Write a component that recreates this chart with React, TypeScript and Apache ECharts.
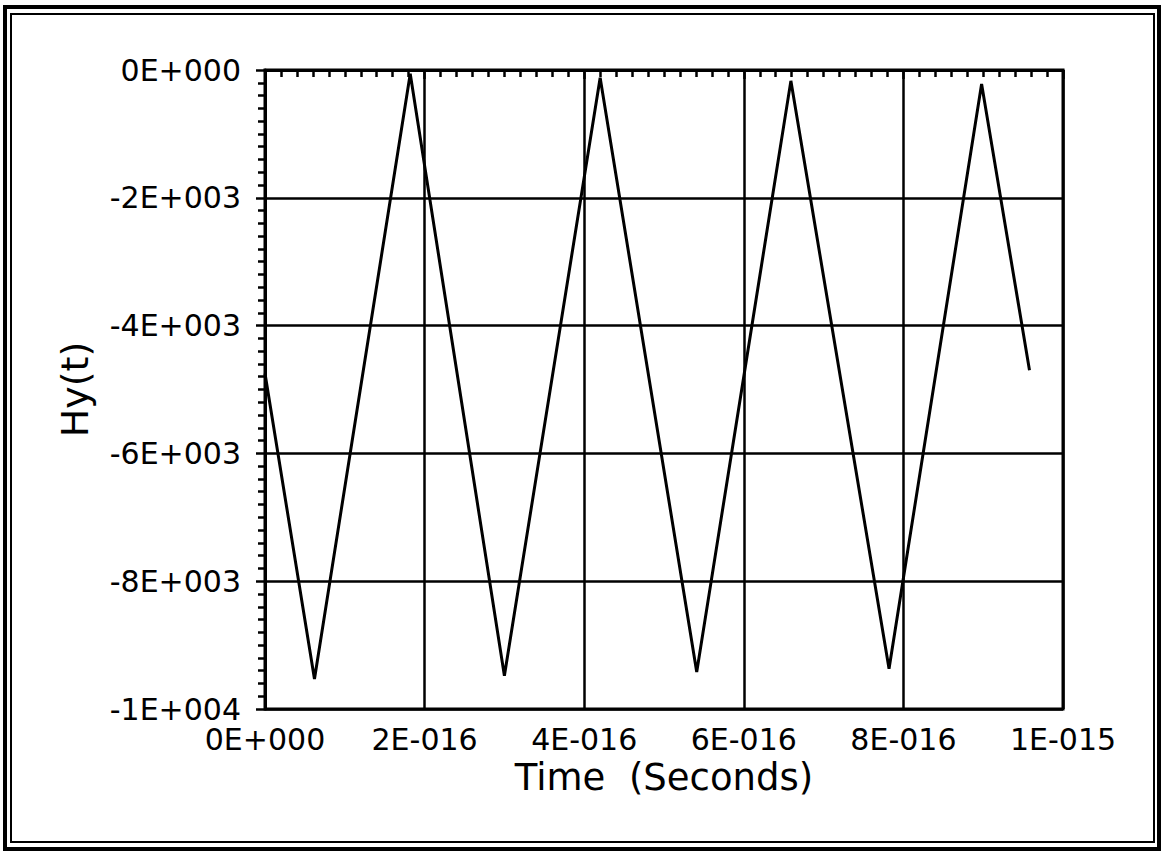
import React, { useEffect, useRef } from "react";
import * as echarts from "echarts";

// Time (seconds) and Hy(t) values
const timeValues = [0, 0.62e-16, 1.82e-16, 3.0e-16, 4.2e-16, 5.41e-16, 6.59e-16, 7.82e-16, 8.98e-16, 9.58e-16];
const hyValues = [-4750, -9530, -60, -9480, -120, -9420, -170, -9370, -220, -4700];

const xTickValues = [0, 2e-16, 4e-16, 6e-16, 8e-16, 1e-15];
const xTickLabels = ["0E+000", "2E-016", "4E-016", "6E-016", "8E-016", "1E-015"];
const yTickValues = [-10000, -8000, -6000, -4000, -2000, 0];
const yTickLabels = ["-1E+004", "-8E+003", "-6E+003", "-4E+003", "-2E+003", "0E+000"];

const FONT = "DejaVu Sans";

function nearestLabel(v: number, vals: number[], labels: string[]) {
  let best = 0;
  let bestD = Infinity;
  vals.forEach((t, i) => {
    const d = Math.abs(t - v);
    if (d < bestD) {
      bestD = d;
      best = i;
    }
  });
  const span = Math.abs(vals[vals.length - 1] - vals[0]);
  return bestD < span * 1e-3 ? labels[best] : "";
}

export default function App() {
  const ref = useRef<HTMLDivElement>(null);
  useEffect(() => {
    if (!ref.current) return;
    const chart = echarts.init(ref.current, undefined, { renderer: "svg" });
    const data = timeValues.map((t, i) => [t, hyValues[i]]);
    chart.setOption({
      animation: false,
      backgroundColor: "#ffffff",
      grid: {
        left: 265,
        right: 103,
        top: 70,
        bottom: 143,
        show: true,
        borderColor: "#000",
        borderWidth: 3,
        backgroundColor: "transparent",
      },
      xAxis: {
        type: "value",
        min: 0,
        max: 1e-15,
        interval: 2e-16,
        name: "Time  (Seconds)",
        nameLocation: "middle",
        nameGap: 46,
        nameTextStyle: { color: "#000", fontSize: 37, fontFamily: FONT },
        axisLine: { show: true, lineStyle: { color: "#000", width: 3 } },
        axisTick: { show: true, length: 9, lineStyle: { color: "#000", width: 2.5 } },
        minorTick: { show: true, splitNumber: 10, length: 7, lineStyle: { color: "#000", width: 2.5 } },
        splitLine: { show: true, lineStyle: { color: "#000", width: 2.5 } },
        axisLabel: {
          color: "#000",
          fontSize: 30,
          fontFamily: FONT,
          margin: 15,
          formatter: (v: number) => nearestLabel(v, xTickValues, xTickLabels),
        },
      },
      yAxis: {
        type: "value",
        min: -10000,
        max: 0,
        interval: 2000,
        name: "Hy(t)",
        nameLocation: "middle",
        nameGap: 171,
        nameRotate: 90,
        nameTextStyle: { color: "#000", fontSize: 38, fontFamily: FONT },
        axisLine: { show: true, lineStyle: { color: "#000", width: 3 } },
        axisTick: { show: true, length: 9, lineStyle: { color: "#000", width: 2.5 } },
        minorTick: { show: true, splitNumber: 10, length: 7, lineStyle: { color: "#000", width: 2.5 } },
        splitLine: { show: true, lineStyle: { color: "#000", width: 2.5 } },
        axisLabel: {
          color: "#000",
          fontSize: 30,
          fontFamily: FONT,
          margin: 24,
          formatter: (v: number) => nearestLabel(v, yTickValues, yTickLabels),
        },
      },
      series: [
        {
          type: "line",
          data,
          showSymbol: false,
          lineStyle: { color: "#000", width: 3 },
        },
      ],
      graphic: [
        {
          type: "rect",
          shape: { x: 5, y: 7, width: 1154, height: 842 },
          style: { fill: "none", stroke: "#000", lineWidth: 4 },
          silent: true,
        },
        {
          type: "rect",
          shape: { x: 11, y: 14, width: 1143, height: 828 },
          style: { fill: "none", stroke: "#000", lineWidth: 2 },
          silent: true,
        },
      ],
    });
    return () => chart.dispose();
  }, []);
  return (
    <div
      ref={ref}
      style={{ position: "fixed", left: 0, top: 0, width: 1166, height: 852 }}
    />
  );
}
